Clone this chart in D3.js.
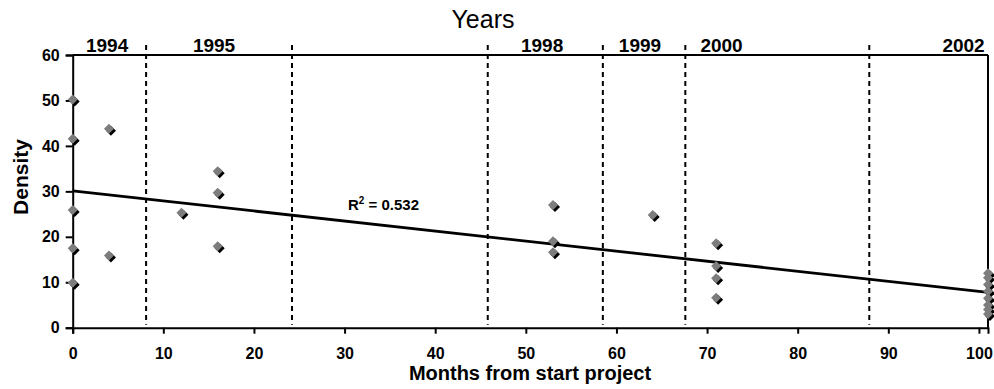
<!DOCTYPE html>
<html>
<head>
<meta charset="utf-8">
<script src="https://cdn.jsdelivr.net/npm/d3@7"></script>
<style>
  html, body { margin: 0; padding: 0; background: #fff; }
  svg { display: block; }
  text { font-family: "Liberation Sans", Arial, sans-serif; fill: #000; }
</style>
</head>
<body>
<script>
// ---- data ----
const monthsX = [0, 0, 0, 0, 0, 4, 4, 12, 16, 16, 16, 53, 53, 53, 64, 71, 71, 71, 71,
                 101, 101, 101, 101, 101, 101, 101, 101];
const densityY = [50.2, 41.6, 25.9, 17.5, 9.9, 43.8, 15.9, 25.3, 34.4, 29.7, 17.9,
                  27.0, 19.0, 16.6, 24.8, 18.6, 13.6, 10.9, 6.6,
                  12.0, 11.0, 9.5, 8.0, 6.5, 5.0, 4.0, 3.0];
const xTicks = [0, 10, 20, 30, 40, 50, 60, 70, 80, 90, 100];
const yTicks = [0, 10, 20, 30, 40, 50, 60];
const yearLabels = ["1994", "1995", "1998", "1999", "2000", "2002"];
const yearLabelMonth = [3.8, 15.6, 51.8, 62.6, 71.6, 98.3];
const yearBoundaryMonth = [8.1, 24.2, 45.8, 58.5, 67.6, 87.9];
const trendIntercept = 30.1;
const trendSlope = -0.221;
const rSquaredText = "0.532";

// ---- layout ----
const W = 994, H = 389;
const margin = { top: 55, right: 6, bottom: 61.3, left: 72.7 };
const svg = d3.select("body").append("svg").attr("width", W).attr("height", H);

const x = d3.scaleLinear().domain([0, 101]).range([margin.left, W - margin.right]);
const y = d3.scaleLinear().domain([0, 60]).range([H - margin.bottom, margin.top]);

// year boundary dashed lines
svg.append("g").selectAll("line").data(yearBoundaryMonth).join("line")
  .attr("x1", d => x(d)).attr("x2", d => x(d))
  .attr("y1", margin.top - 10).attr("y2", y(0) - 3)
  .attr("stroke", "#000").attr("stroke-width", 2)
  .attr("stroke-dasharray", "5,4");

// top border and right border
svg.append("line")
  .attr("x1", x(0)).attr("x2", x(101)).attr("y1", y(60)).attr("y2", y(60))
  .attr("stroke", "#000").attr("stroke-width", 2);
svg.append("line")
  .attr("x1", x(101)).attr("x2", x(101)).attr("y1", y(60)).attr("y2", y(0))
  .attr("stroke", "#000").attr("stroke-width", 2);

// axes
const xAxis = svg.append("g")
  .attr("transform", `translate(0,${y(0)})`)
  .call(d3.axisBottom(x).tickValues(xTicks).tickSizeOuter(0).tickSize(6).tickPadding(14));
const yAxis = svg.append("g")
  .attr("transform", `translate(${x(0)},0)`)
  .call(d3.axisLeft(y).tickValues(yTicks).tickSizeOuter(0).tickSize(7).tickPadding(6));
[xAxis, yAxis].forEach(g => {
  g.selectAll("path.domain").attr("stroke", "#000").attr("stroke-width", 2);
  g.selectAll(".tick line").attr("stroke", "#000").attr("stroke-width", 2);
  g.selectAll(".tick text").attr("fill", "#000")
    .style("font-family", '"Liberation Sans", Arial, sans-serif')
    .style("font-size", "16px").style("font-weight", "bold");
});

// trend line
svg.append("line")
  .attr("x1", x(0)).attr("y1", y(trendIntercept))
  .attr("x2", x(101)).attr("y2", y(trendIntercept + trendSlope * 101))
  .attr("stroke", "#000").attr("stroke-width", 2.8);

// points: black shadow + grey diamond
const pts = monthsX.map((m, i) => ({ m, v: densityY[i] }));
const diamond = d3.symbol().type(d3.symbolSquare).size(50);
svg.append("g").selectAll("path").data(pts).join("path")
  .attr("d", diamond)
  .attr("transform", d => `translate(${x(d.m) + 2},${y(d.v) + 2}) rotate(45)`)
  .attr("fill", "#000");
svg.append("g").selectAll("path").data(pts).join("path")
  .attr("d", diamond)
  .attr("transform", d => `translate(${x(d.m)},${y(d.v)}) rotate(45)`)
  .attr("fill", "#7d7d7d");

// year labels
svg.append("g").selectAll("text").data(yearLabels).join("text")
  .attr("x", (d, i) => x(yearLabelMonth[i]))
  .attr("y", 52)
  .attr("text-anchor", "middle")
  .style("font-size", "19px").style("font-weight", "bold")
  .text(d => d);

// titles
svg.append("text").attr("x", 483).attr("y", 28).attr("text-anchor", "middle")
  .style("font-size", "25px").text("Years");
svg.append("text").attr("x", 530).attr("y", 380).attr("text-anchor", "middle")
  .style("font-size", "20px").style("font-weight", "bold").text("Months from start project");
svg.append("text")
  .attr("transform", "translate(28,177) rotate(-90)")
  .attr("text-anchor", "middle")
  .style("font-size", "21px").style("font-weight", "bold").text("Density");

// R squared label
const r2 = svg.append("text").attr("x", 348).attr("y", 210)
  .style("font-size", "15px").style("font-weight", "bold");
r2.append("tspan").text("R");
r2.append("tspan").attr("dy", -6).style("font-size", "10px").text("2");
r2.append("tspan").attr("dy", 6).text(" = " + rSquaredText);
</script>
</body>
</html>
